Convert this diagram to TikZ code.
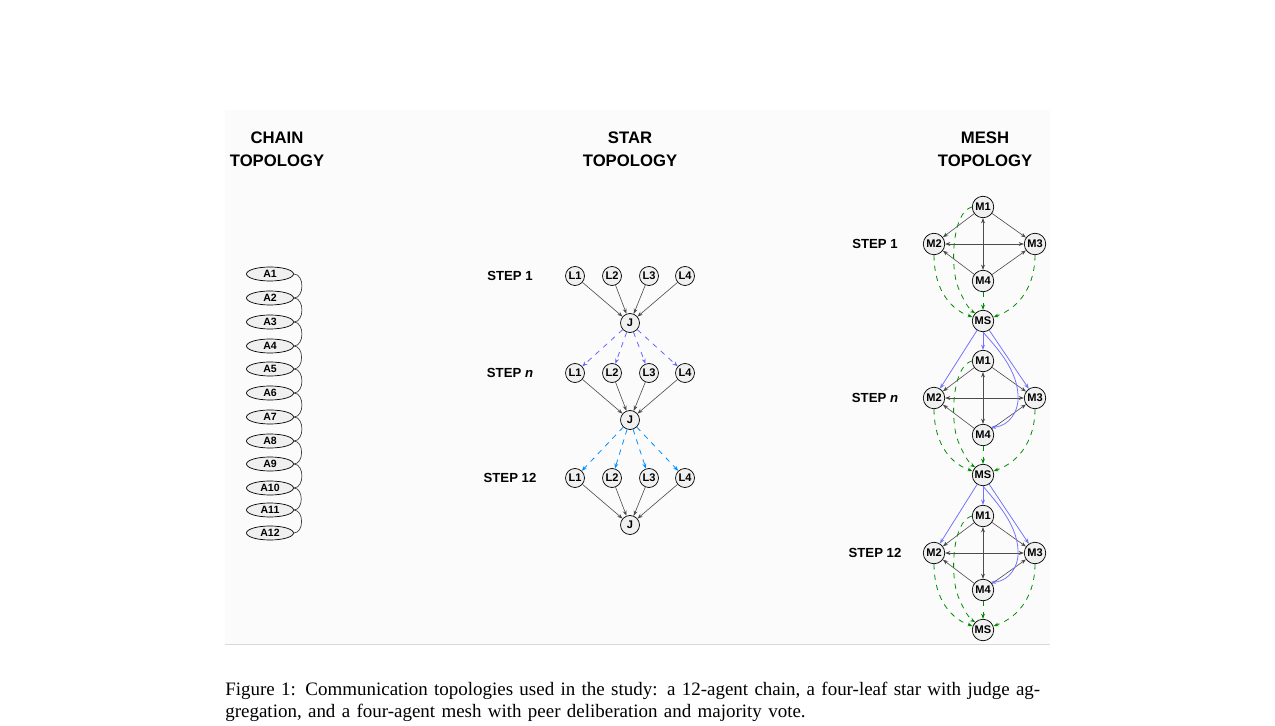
\documentclass[tikz,border=0pt]{standalone}
\usepackage{fontspec}
\setmainfont{Liberation Serif}
\setsansfont{Liberation Sans}
\usetikzlibrary{arrows.meta,shapes.geometric}
\begin{document}
\begin{tikzpicture}[x=0.02cm,y=-0.02cm,
  ttl/.style={font=\sffamily\bfseries\fontsize{9.5}{13}\selectfont,align=center},
  stp/.style={font=\sffamily\bfseries\fontsize{7.5}{9}\selectfont},
  ag/.style={draw,ellipse,fill=black!6,minimum width=0.94cm,minimum height=0.28cm,inner sep=0pt,font=\sffamily\bfseries\fontsize{6}{7}\selectfont},
  nd/.style={draw,circle,fill=black!6,minimum size=0.38cm,inner sep=0pt,font=\sffamily\bfseries\fontsize{6.3}{7}\selectfont},
  md/.style={nd,minimum size=0.43cm},
  ed/.style={draw=black!70,line width=0.35pt,-{Stealth[length=3pt,width=2.2pt]}},
  bd/.style={draw=black!70,line width=0.35pt,{Stealth[length=3pt,width=2.2pt]}-{Stealth[length=3pt,width=2.2pt]}},
  gd/.style={draw=green!55!black,dashed,line width=0.45pt,-{Stealth[length=3pt,width=2.2pt]}},
  bl/.style={draw=blue!55,line width=0.45pt,-{Stealth[length=3pt,width=2.2pt]}},
  bld/.style={draw=blue!60,dashed,line width=0.45pt,-{Stealth[length=3pt,width=2.2pt]}},
  ch/.style={draw=black!75,line width=0.4pt}]
\useasboundingbox (0,0) rectangle (1275,726);
\fill[black!1.5] (225,110) rectangle (1050,644);
\draw[black!15,line width=0.4pt] (225,644) -- (1050,644);
\node[ttl] at (277,149) {CHAIN\\TOPOLOGY};
\node[ttl] at (630,149) {STAR\\TOPOLOGY};
\node[ttl] at (985,149) {MESH\\TOPOLOGY};
% chain
\foreach \i/\y in {1/274,2/298,3/322,4/346,5/369,6/393,7/417,8/441,9/464,10/488,11/510,12/533}
  \node[ag] (A\i) at (270,\y) {A\i};
\foreach \i [evaluate=\i as \j using int(\i+1)] in {1,...,11}
  \draw[ch] (A\i.east) to[out=0,in=0,looseness=1.15] (A\j.east);
% star
\foreach \s/\ly/\jy/\lab in {1/276/323/{STEP 1},n/373/420/{STEP \textit{n}},t/478/525/{STEP 12}}{
  \node[stp] (S\s) at (510,\ly) {\lab};
  \foreach \k/\x in {1/575,2/612,3/649,4/685}
    \node[nd] (L\s\k) at (\x,\ly) {L\k};
  \node[nd] (J\s) at (630,\jy) {J};
  \foreach \k in {1,...,4} \draw[ed] (L\s\k) -- (J\s);
}
\foreach \k in {1,...,4} \draw[bld] (J1) -- (Ln\k);
\foreach \k in {1,...,4} \draw[bld,draw=blue!45!cyan] (Jn) -- (Lt\k);
% mesh
\foreach \s/\a/\lab in {1/207/{STEP 1},n/361/{STEP \textit{n}},t/516/{STEP 12}}{
  \node[stp] (T\s) at (875,\a+37) {\lab};
  \node[md] (M\s1) at (983,\a) {M1};
  \node[md] (M\s2) at (934,\a+37) {M2};
  \node[md] (M\s3) at (1035,\a+37) {M3};
  \node[md] (M\s4) at (983,\a+74) {M4};
  \node[md] (MS\s) at (983,\a+114) {MS};
  \draw[ed] (M\s1) -- (M\s2);
  \draw[ed] (M\s1) -- (M\s3);
  \draw[bd] (M\s2) -- (M\s3);
  \draw[bd] (M\s1) -- (M\s4);
  \draw[ed] (M\s4) -- (M\s2);
  \draw[ed] (M\s4) -- (M\s3);
  \draw[gd] (M\s2.south) to[out=-90,in=160] (MS\s);
  \draw[gd] (M\s3.south) to[out=-90,in=20] (MS\s);
  \draw[gd] (M\s4) -- (MS\s);
  \draw[gd] (M\s1.west) .. controls (952,\a+5) and (950,\a+60) .. (958,\a+80) .. controls (964,\a+95) and (970,\a+103) .. (MS\s.north west);
}
\foreach \p/\s/\a in {1/n/361,n/t/516}{
  \draw[bl] (MS\p) -- (M\s2);
  \draw[bl] (MS\p) -- (M\s3);
  \draw[bl] (MS\p) -- (M\s1);
  \draw[bl] (MS\p.south) .. controls (995,\a-15) and (1020,\a+10) .. (1018,\a+40) .. controls (1016,\a+58) and (1003,\a+66) .. (M\s4.north east);
}
\node[anchor=north west,align=left,text width=16.5cm,inner sep=0pt,font=\fontsize{10.8}{12.6}\selectfont] (cap) at (225,682)
 {Figure 1: Communication topologies used in the study: a 12-agent chain, a four-leaf star with judge aggregation, and a four-agent mesh with peer deliberation and majority vote.};
\end{tikzpicture}
\end{document}
